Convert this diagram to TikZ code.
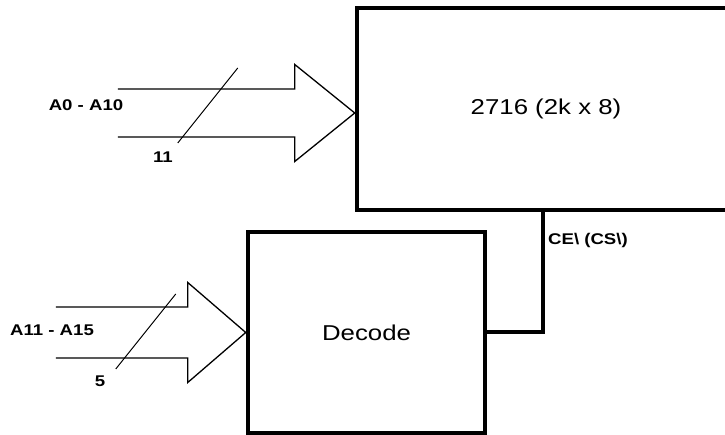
\documentclass[tikz,border=0pt]{standalone}
\usepackage{fontspec}
\setmainfont{Liberation Sans}[FakeStretch=1.2]
\usetikzlibrary{positioning, calc}

\tikzset{
    chip/.style={draw, line width=4.5pt, rectangle, inner sep=0pt,
        font=\fontsize{21.5}{24}\selectfont},
    bus/.style={line width=1.3pt, line join=miter},
    lbl/.style={font=\fontsize{15.5}{18}\selectfont\bfseries, inner sep=0pt}
}

\begin{document}
\begin{tikzpicture}[x=1pt, y=1pt]
    \useasboundingbox (0,0) rectangle (725,435);
    \clip (0,0) rectangle (725,435);

    % ROM chip and decoder
    \node[chip, minimum width=378pt, minimum height=202pt] (rom) at (546,326) {2716 (2k x 8)};
    \node[chip, minimum width=237pt, minimum height=201pt] (dec) at (366.5,102.5) {Decode};

    % Address bus into the ROM
    \draw[bus] ($(rom.west)+(-237,20)$) -- ($(rom.west)+(-60,20)$) -- ($(rom.west)+(-60,44.5)$)
        -- ($(rom.west)+(0,-4)$) -- ($(rom.west)+(-60,-52.5)$) -- ($(rom.west)+(-60,-28)$) -- ($(rom.west)+(-237,-28)$);
    \coordinate (s1a) at ($(rom.west)+(-117,41)$);
    \coordinate (s1b) at ($(rom.west)+(-177,-34)$);
    \draw[line width=1pt] (s1a) -- (s1b);
    \node[lbl] (n11) at (163,278) {11};
    \node[lbl] (alo) at (86,330) {A0 - A10};

    % Address bus into the decoder
    \draw[bus] ($(dec.west)+(-190,25.5)$) -- ($(dec.west)+(-58,25.5)$) -- ($(dec.west)+(-58,50)$)
        -- (dec.west) -- ($(dec.west)+(-58,-50)$) -- ($(dec.west)+(-58,-25.5)$) -- ($(dec.west)+(-190,-25.5)$);
    \coordinate (s2a) at ($(dec.west)+(-70,38.5)$);
    \coordinate (s2b) at ($(dec.west)+(-130,-36.5)$);
    \draw[line width=1pt] (s2a) -- (s2b);
    \node[lbl] (n5) at (100,54) {5};
    \node[lbl] (ahi) at (52,105) {A11 - A15};

    % Chip enable
    \coordinate (ce) at (543,102.5);
    \draw[line width=4pt] (dec.east) -- (ce) -- (ce |- rom.south);
    \node[lbl, anchor=west] (cel) at (548,195) {CE\textbackslash{} (CS\textbackslash)};
\end{tikzpicture}
\end{document}
